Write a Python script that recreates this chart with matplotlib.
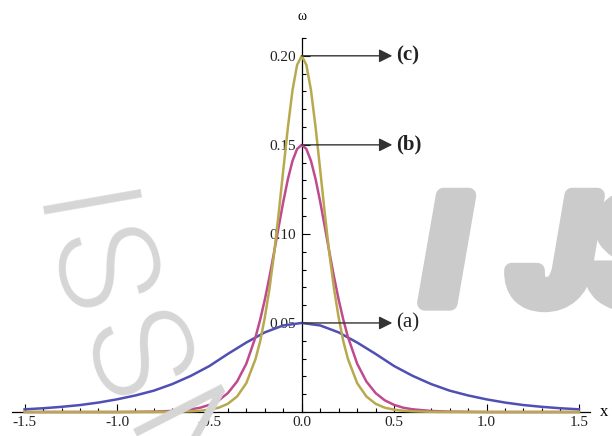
import matplotlib.pyplot as plt
import matplotlib.patheffects as pe
from matplotlib.ticker import MultipleLocator, FixedLocator, FormatStrFormatter

plt.rcParams['axes.unicode_minus'] = False

# half profiles (curves are symmetric about x = 0)
xa_half = [0.0, 0.1, 0.2, 0.3, 0.4, 0.5, 0.6, 0.7, 0.8, 0.9, 1.0,
           1.1, 1.2, 1.3, 1.4, 1.5]
wa_half = [0.0500, 0.0486, 0.0447, 0.0390, 0.0326, 0.0258, 0.0203, 0.0157,
           0.0120, 0.0093, 0.0071, 0.0053, 0.0039, 0.0029, 0.0021, 0.0015]

xbc_half = [0.0, 0.025, 0.05, 0.075, 0.1, 0.125, 0.15, 0.175, 0.2, 0.225,
            0.25, 0.3, 0.35, 0.4, 0.45, 0.5, 0.55, 0.6, 0.7, 0.8, 1.0, 1.5]
wb_half = [0.150, 0.1477, 0.1410, 0.1307, 0.1180, 0.1039, 0.0895, 0.0757,
           0.0630, 0.0518, 0.0421, 0.0271, 0.0171, 0.0106, 0.0065, 0.0040,
           0.0024, 0.0015, 0.0006, 0.0002, 0.0, 0.0]
wc_half = [0.200, 0.1949, 0.1807, 0.1598, 0.1358, 0.1113, 0.0886, 0.0690,
           0.0529, 0.0397, 0.0298, 0.0162, 0.0087, 0.0046, 0.0024, 0.0013,
           0.0007, 0.0004, 0.0001, 0.0, 0.0, 0.0]

peaks = [0.05, 0.15, 0.20]
peak_labels = ['(a)', '(b)', '(c)']
label_weights = ['normal', 'bold', 'bold']

x_ticks = [-1.5, -1.0, -0.5, 0.0, 0.5, 1.0, 1.5]
y_ticks = [0.05, 0.10, 0.15, 0.20]


def mirror(xs, ys):
  'Full curve from its right half.'
  x = [-v for v in reversed(xs[1:])] + xs
  y = list(reversed(ys[1:])) + ys
  return x, y


serif = 'Liberation Serif'
sans = ['Roboto', 'DejaVu Sans']
fig = plt.figure(figsize=(6.12, 4.36), dpi=100)

# background watermark: "IJS" logo and "ISSN" along a stamp arc
wm = '#cbcbcb'
for ch, fx in zip('IJS', [0.691, 0.836, 0.962]):
  fig.text(fx, 0.305, ch, fontsize=109, fontfamily=sans, fontweight=900,
           fontstyle='italic', color=wm, ha='left', va='baseline', zorder=0,
           path_effects=[pe.withStroke(linewidth=11, foreground=wm)])
for ch, (px, py), rot in zip('ISSN', [(82, 214), (106, 270), (140, 355), (188, 448)],
                             [-80, -75, -69, -63]):
  fig.text(px/612, 1 - py/436, ch, fontsize=100, fontfamily=sans, fontweight=300,
           color='#d6d6d6', rotation=rot, rotation_mode='anchor',
           ha='center', va='center_baseline', zorder=0)

ax = fig.add_axes([12/612, 1 - 412/436, 578/612, 374/436])
ax.patch.set_alpha(0)

colors = ['#4f4fb4', '#bf4b8e', '#b8a94f']
for (xs, ys), c in zip([(xa_half, wa_half), (xbc_half, wb_half), (xbc_half, wc_half)], colors):
  x, y = mirror(xs, ys)
  ax.plot(x, y, '-', color=c, lw=1.8, clip_on=False, zorder=3,
          solid_joinstyle='round')

ax.set_xlim(-1.568, 1.56)
ax.set_ylim(0, 0.21)

# axes through the origin
ax.spines['left'].set_position(('data', 0))
ax.spines['bottom'].set_position(('data', 0))
ax.spines['top'].set_visible(False)
ax.spines['right'].set_visible(False)
for s in ('left', 'bottom'):
  ax.spines[s].set_linewidth(0.9)

ax.xaxis.set_major_locator(FixedLocator(x_ticks))
ax.xaxis.set_minor_locator(MultipleLocator(0.1))
ax.xaxis.set_major_formatter(FormatStrFormatter('%.1f'))
ax.yaxis.set_major_locator(FixedLocator(y_ticks))
ax.yaxis.set_minor_locator(MultipleLocator(0.01))
ax.yaxis.set_major_formatter(FormatStrFormatter('%.2f'))
ax.tick_params(which='major', direction='in', length=6, width=0.8)
ax.tick_params(which='minor', direction='in', length=3, width=0.8)
ax.tick_params(axis='x', pad=3)
ax.tick_params(axis='y', pad=4)
for lab in ax.get_xticklabels() + ax.get_yticklabels():
  lab.set_fontfamily(serif)
  lab.set_fontsize(11)
  lab.set_color('#222222')

ax.text(1.635, 0, 'x', fontfamily=serif, fontsize=12, ha='center', va='center',
        clip_on=False)
ax.text(0, 0.222, 'ω', fontfamily=serif, fontsize=10, ha='center', va='center',
        clip_on=False)

# arrows pointing at the peaks
for p, lab, w in zip(peaks, peak_labels, label_weights):
  ax.annotate('', xy=(0.49, p), xytext=(0, p),
              arrowprops=dict(arrowstyle='-|>', color='#333333', lw=1.0,
                              mutation_scale=20, shrinkA=0, shrinkB=0),
              zorder=4)
  ax.text(0.51, p, lab, fontfamily=serif, fontsize=15, fontweight=w,
          ha='left', va='center', color='#222222')

plt.savefig('out.png', dpi=100)
plt.close()
